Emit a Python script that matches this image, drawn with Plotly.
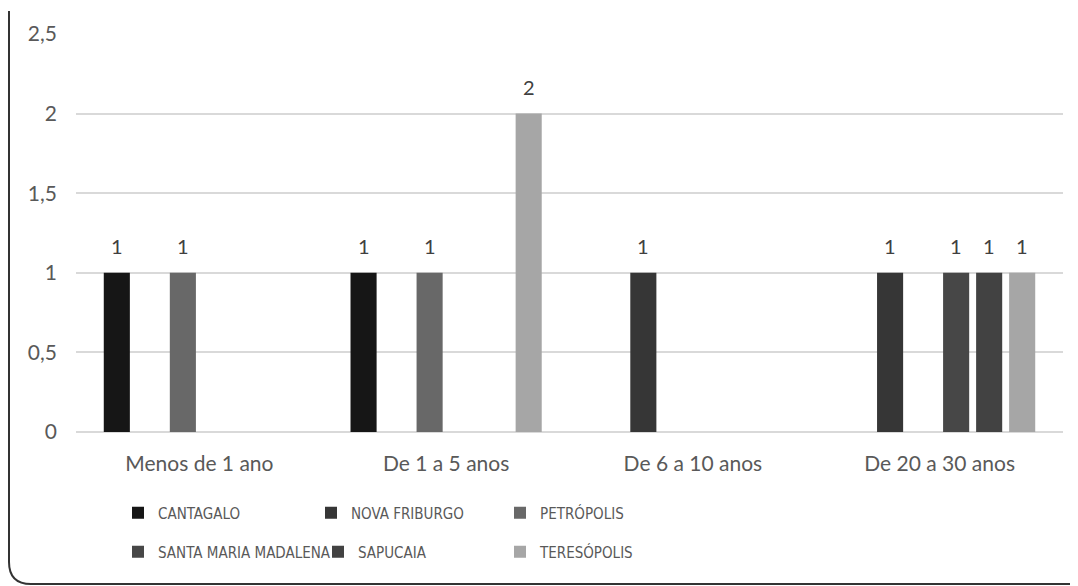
import plotly.graph_objects as go

categories = ["Menos de 1 ano", "De 1 a 5 anos", "De 6 a 10 anos", "De 20 a 30 anos"]
series_names = ["CANTAGALO", "NOVA FRIBURGO", "PETRÓPOLIS",
                "SANTA MARIA MADALENA", "SAPUCAIA", "TERESÓPOLIS"]
cantagalo = [1, 1, None, None]
nova_friburgo = [None, None, 1, 1]
petropolis = [1, 1, None, None]
santa_maria_madalena = [None, None, None, 1]
sapucaia = [None, None, None, 1]
teresopolis = [None, 2, None, 1]
y_ticks = [0, 0.5, 1, 1.5, 2, 2.5]

series_values = [cantagalo, nova_friburgo, petropolis,
                 santa_maria_madalena, sapucaia, teresopolis]
colors = ["#161616", "#363636", "#686868", "#474747", "#424242", "#a6a6a6"]

FONT = "Lato, 'Open Sans', sans-serif"
LEG_FONT = "'Liberation Sans Narrow', 'DejaVu Sans Condensed', Lato, sans-serif"

# page body has an 8px margin: work in screen pixels and offset
OFF = 8
W, H = 1078 - OFF, 586 - OFF
PL, PR, PT, PB = 76, 1063, 34, 432          # plot area in screen px
ML, MR, MT, MB = PL - OFF, W - (PR - OFF), PT - OFF, H - (PB - OFF)
PW, PH = W - ML - MR, H - MT - MB

def px(sx):
    return (sx - OFF - ML) / PW

def py(sy):
    return (H - MB - (sy - OFF)) / PH

BARGAP, GROUPGAP = 0.197, 0.21
n = len(series_names)
slot = PW / len(categories) * (1 - BARGAP) / n

# legend positions (screen px of symbol left edge, row centre)
leg_pos = [(142, 513), (335, 513), (524, 513), (142, 552), (342, 552), (524, 552)]

fig = go.Figure()
layout_legends = {}
annotations = []
for i, (name, vals, col) in enumerate(zip(series_names, series_values, colors)):
    lg = "legend" if i == 0 else f"legend{i + 1}"
    fig.add_trace(go.Bar(
        name=name, x=categories, y=vals, marker_color=col,
        marker_line_width=0, legend=lg,
    ))
    sx, sy = leg_pos[i]
    layout_legends[lg] = dict(
        orientation="h", x=px(sx - 24), xanchor="left", y=py(sy),
        yanchor="middle", font=dict(family=LEG_FONT, size=15, color="#595959"),
        bgcolor="rgba(0,0,0,0)")
    for c, v in zip(categories, vals):
        if v is None:
            continue
        annotations.append(dict(
            x=c, y=v, xref="x", yref="y", text=str(v), showarrow=False,
            yanchor="bottom", yshift=13, xshift=(i - (n - 1) / 2) * slot,
            font=dict(family=FONT, size=20, color="#404040")))

border = (f"M {px(9)},{py(11)} L {px(9)},{py(562)} "
          f"Q {px(9)},{py(584)} {px(31)},{py(584)} L {px(1074)},{py(584)}")

fig.update_layout(
    width=W, height=H,
    margin=dict(l=ML, r=MR, t=MT, b=MB, autoexpand=False),
    paper_bgcolor="white", plot_bgcolor="white",
    barmode="group", bargap=BARGAP, bargroupgap=GROUPGAP,
    separators=",.",
    font=dict(family=FONT, color="#595959"),
    showlegend=True,
    xaxis=dict(showgrid=False, showline=False, ticks="", zeroline=False,
               tickfont=dict(family=FONT, size=21, color="#595959"),
               ticklabelstandoff=17),
    yaxis=dict(range=[0, 2.5], tickvals=y_ticks, showgrid=True,
               gridcolor="#d9d9d9", gridwidth=1.5, zeroline=True,
               zerolinecolor="#d9d9d9", zerolinewidth=1.5, showline=False,
               ticks="", tickfont=dict(family=FONT, size=21, color="#595959"),
               ticklabelstandoff=18),
    annotations=annotations,
    shapes=[dict(type="path", path=border, xref="paper", yref="paper",
                 line=dict(color="#333333", width=2))],
    **layout_legends,
)

fig.write_html("out.html")
